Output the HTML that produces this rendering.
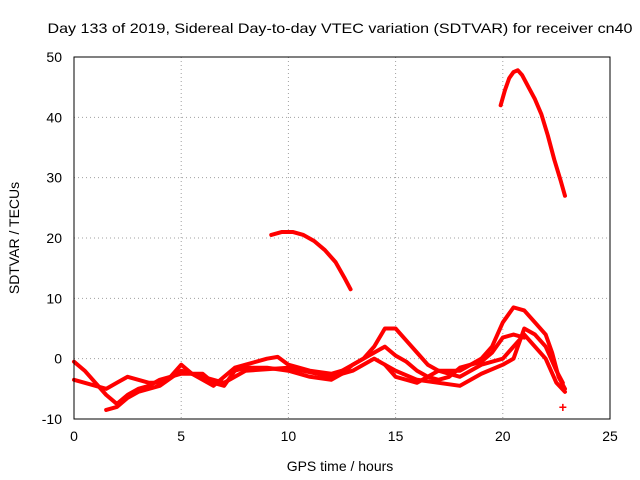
<!DOCTYPE html>
<html><head><meta charset="utf-8"><style>
body{margin:0;background:#fff;}
svg{display:block;font-family:"Liberation Sans",sans-serif;}
</style></head><body>
<svg id="chart" width="640" height="480">
<text x="340" y="33" font-size="14" text-anchor="middle" textLength="585" lengthAdjust="spacingAndGlyphs">Day 133 of 2019, Sidereal Day-to-day VTEC variation (SDTVAR) for receiver cn40</text>
<text x="340" y="471" font-size="14" text-anchor="middle">GPS time / hours</text>
<text transform="translate(19,238) rotate(-90)" font-size="14" text-anchor="middle">SDTVAR / TECUs</text>
<g id="grid"></g><g id="ticks"></g><g id="series"></g>
<rect x="74" y="57" width="536" height="362" fill="none" stroke="#000"/>
</svg>
<script>
const xTicks=[0,5,10,15,20,25];
const yTicks=[-10,0,10,20,30,40,50];
const arc1H=[9.2,9.7,10.2,10.7,11.2,11.7,12.2,12.6,12.9];
const arc1V=[20.5,21,21,20.5,19.5,18,16,13.5,11.5];
const arc2H=[19.9,20.1,20.3,20.5,20.7,20.9,21.2,21.5,21.8,22.1,22.4,22.7,22.9];
const arc2V=[42,44.5,46.5,47.5,47.8,47,45,43,40.5,37,33,29.5,27];
const trAH=[0,0.5,1,1.5,2,2.5,3,3.5,4,4.5,5,5.5,6,6.5,7,7.5,8,9,9.5,10,11,12,12.5,13,13.5,14,14.5,15,15.5,16,16.5,17,18,19,19.5,20,20.5,21,21.5,22,22.3,22.6,22.9];
const trAV=[-0.5,-2,-4,-6,-7.5,-6,-5,-4.5,-3.5,-3,-1,-2.5,-3.5,-4.5,-3,-1.5,-1,0,0.3,-1,-2,-2.5,-2,-1,0,2,5,5,3,1,-1,-2,-2,0,2,6,8.5,8,6,4,1,-3,-5];
const trBH=[0,0.5,1,1.5,2,2.5,3,3.5,4,4.5,5,6,6.5,7,7.5,8,9,10,11,12,12.5,13,14,14.5,15,15.5,16,16.5,17,17.5,18,19,19.5,20,20.5,21];
const trBV=[-3.5,-4,-4.5,-5,-4,-3,-3.5,-4,-4,-3,-2.5,-2.5,-4,-4.5,-2,-1.5,-1.5,-2,-3,-3.5,-2.5,-1,1,2,0.5,-0.5,-2,-3,-3.5,-3,-1.5,-0.5,1,3.5,4,3.5];
const trCH=[1.5,2,2.5,3,4,5,6,7,8,10,12,13,14,15,16,17,18,19,20,20.5,21,21.5,22,22.5,22.8];
const trCV=[-8.5,-8,-6.5,-5.5,-4.5,-2,-3,-4,-2,-1.5,-3,-2,0,-2,-3.5,-4,-4.5,-2.5,-1,0,5,4,2,-2,-4];
const trDH=[14.5,15,16,17,18,19,20,21,22,22.5,22.9];
const trDV=[-1,-3,-4,-2,-3,-1,0,4,0,-4,-5.5];
const lonePH=[22.8];const lonePV=[-8];
const NS="http://www.w3.org/2000/svg";
const X=h=>74+h*536/25, Y=v=>419-(v+10)*362/60;
const grid=document.getElementById('grid'),ticks=document.getElementById('ticks'),ser=document.getElementById('series');
function mk(t,a,p){const e=document.createElementNS(NS,t);for(const k in a)e.setAttribute(k,a[k]);p.appendChild(e);return e;}
xTicks.forEach(t=>{
 if(t>0&&t<25){const g=mk('line',{x1:X(t),x2:X(t),y1:57,y2:419,stroke:'#a0a0a0','stroke-dasharray':'1,3'},grid);
 
 }
 const l=mk('text',{x:X(t),y:441,'font-size':14,'text-anchor':'middle'},ticks);l.textContent=t;
 
 
});
yTicks.forEach(t=>{
 if(t>-10&&t<50){const g=mk('line',{x1:74,x2:610,y1:Y(t),y2:Y(t),stroke:'#a0a0a0','stroke-dasharray':'1,3'},grid);
 
 }
 const l=mk('text',{x:62,y:Y(t)+5,'font-size':14,'text-anchor':'end'},ticks);l.textContent=t;
 
 
});
function track(H,V,name){
 const pts=H.map((h,i)=>X(h)+','+Y(V[i])).join(' ');
 const p=mk('polyline',{points:pts,fill:'none',stroke:'#f00','stroke-width':4,'stroke-linejoin':'round','stroke-linecap':'round'},ser);
 
 
}
track(arc1H,arc1V,'series-arc-1');track(arc2H,arc2V,'series-arc-2');
track(trAH,trAV,'series-track-a');track(trBH,trBV,'series-track-b');
track(trCH,trCV,'series-track-c');track(trDH,trDV,'series-track-d');
lonePH.forEach((h,i)=>{const m=mk('text',{x:X(h),y:Y(lonePV[i])+5,'font-size':14,fill:'#f00','text-anchor':'middle','font-weight':'bold'},ser);m.textContent='+';
 
 });
</script>
</body></html>
